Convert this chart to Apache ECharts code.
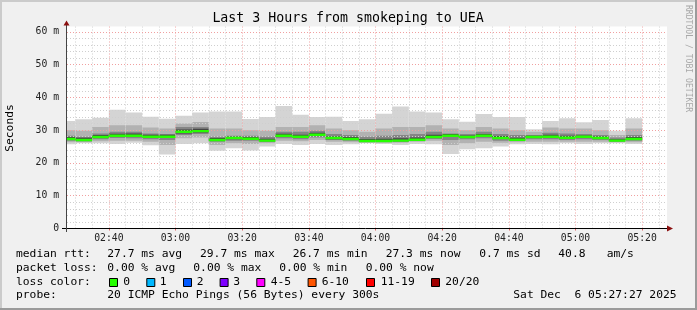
<!DOCTYPE html>
<html><head><meta charset="utf-8">
<script src="https://cdn.jsdelivr.net/npm/echarts@6/dist/echarts.min.js"></script>
<style>html,body{margin:0;padding:0;background:#f0f0f0;}#c{width:697px;height:310px;}</style>
</head><body><div id="c"></div>
<script>
// ---- data (ms) ----
const stepEnds = ["02:30","02:35","02:40","02:45","02:50","02:55","03:00","03:05","03:10","03:15","03:20","03:25","03:30","03:35","03:40","03:45","03:50","03:55","04:00","04:05","04:10","04:15","04:20","04:25","04:30","04:35","04:40","04:45","04:50","04:55","05:00","05:05","05:10","05:15","05:20"];
const medians = [27.3,27.0,27.9,28.3,28.3,28.0,28.0,29.5,29.7,27.0,27.6,27.4,26.8,28.3,28.0,28.6,27.6,27.3,26.7,26.7,26.8,27.1,27.9,28.3,27.9,28.3,27.6,27.1,27.9,28.0,27.7,28.0,27.6,26.8,27.3];
const mins = [25.7,26.0,26.0,25.8,26.2,25.4,22.6,25.8,26.0,23.7,24.5,23.8,25.0,25.8,25.5,25.8,25.5,25.7,26.0,25.8,25.5,25.8,25.7,22.7,24.2,24.5,25.0,25.7,25.8,25.7,26.0,25.8,26.0,26.0,25.8];
const maxs = [32.8,33.3,33.8,36.2,35.4,34.1,33.5,34.4,35.4,35.7,35.7,33.4,34.0,37.4,34.7,34.0,34.1,32.8,33.3,35.0,37.2,35.7,35.4,33.3,32.6,34.9,34.0,34.0,30.3,32.8,33.6,32.4,33.1,29.8,33.6];
const p10 = [26.3,26.3,26.6,26.8,26.8,26.5,25.5,27.5,27.8,25.5,26.0,25.8,26.0,26.8,26.6,27.0,26.5,26.3,26.2,26.2,26.2,26.5,26.8,25.5,26.0,26.5,26.2,26.3,26.5,26.5,26.5,26.5,26.5,26.3,26.3];
const p90 = [30.0,29.8,31.0,31.5,31.5,30.8,30.5,32.0,32.5,30.5,30.5,30.0,29.8,31.0,31.0,31.5,30.5,30.0,29.5,30.5,31.0,31.0,31.5,30.5,30.0,31.0,30.5,30.0,29.5,30.8,30.5,30.5,30.0,28.5,30.5];
const p25 = [26.8,26.6,27.2,27.6,27.5,27.2,27.0,28.5,28.8,26.5,26.8,26.8,26.5,27.5,27.2,27.8,27.0,26.8,26.5,26.5,26.5,26.8,27.3,27.0,27.2,27.5,26.8,26.8,27.2,27.2,27.0,27.2,27.0,26.6,26.8];
const p75 = [28.3,28.0,29.0,29.5,29.5,29.0,28.8,31.0,31.0,28.0,28.3,28.3,28.0,29.5,29.5,29.8,28.8,28.5,28.0,28.3,28.5,28.8,29.5,29.0,28.8,29.5,28.8,28.5,28.5,29.2,29.0,28.8,28.5,27.8,28.5];
const coreLo = [27.0,26.8,27.6,28.0,28.0,27.7,27.6,29.0,29.3,26.8,27.2,27.0,26.6,28.0,27.6,28.2,27.2,27.0,26.5,26.5,26.6,26.9,27.6,27.9,27.6,28.0,27.3,26.9,27.6,27.6,27.4,27.7,27.3,26.6,27.0];
const coreHi = [27.9,27.7,28.5,28.9,29.0,28.6,28.6,30.2,30.4,27.6,28.0,27.9,27.4,28.9,28.6,29.2,28.1,27.9,27.3,27.4,27.5,27.8,28.6,28.8,28.4,28.8,28.2,27.7,28.3,28.6,28.3,28.4,28.1,27.2,27.9];
const stepMinutes = 5;
const xStart = "02:27:27", xEnd = "05:27:27";
const xTickLabels = ["02:40","03:00","03:20","03:40","04:00","04:20","04:40","05:00","05:20"];
const yTickValues = [0,10,20,30,40,50,60];
const yTickLabels = ["0","10 m","20 m","30 m","40 m","50 m","60 m"];
const yMax = 61.6;
const titleText = "Last 3 Hours from smokeping to UEA";
const medianStats = ["27.7 ms avg","29.7 ms max","26.7 ms min","27.3 ms now","0.7 ms sd","40.8","am/s"];
const lossStats = ["0.00 % avg","0.00 % max","0.00 % min","0.00 % now"];
const lossLabels = ["0","1","2","3","4-5","6-10","11-19","20/20"];
const lossColors = ["#26ff00","#00b8ff","#0059ff","#7e00ff","#ff00ff","#ff5500","#ff0000","#a00000"];
const probeText = "20 ICMP Echo Pings (56 Bytes) every 300s";
const dateText = "Sat Dec  6 05:27:27 2025";

// ---- helpers ----
function toMin(s){const p=s.split(':').map(Number);return p[0]*60+p[1]+(p[2]||0)/60;}
function fmt(v){const h=Math.floor(v/60),m=Math.round(v-h*60);return String(h).padStart(2,'0')+':'+String(m).padStart(2,'0');}
const xMin = toMin(xStart), xMax = toMin(xEnd);
const xTickVals = xTickLabels.map(toMin);

const data = stepEnds.map((t,i)=>[toMin(t),mins[i],p10[i],p25[i],coreLo[i],coreHi[i],p75[i],p90[i],maxs[i],medians[i]]);

// grid lines (drawn above smoke like rrdtool)
const MINOR='#cfcfcf', MAJOR='#f0a0a0';
const gl=[];
for(let m=Math.ceil(xMin/5)*5;m<xMax;m+=5){gl.push({xAxis:m,lineStyle:{color:(m%20===0)?MAJOR:MINOR,type:[1,2],width:1}});}
for(let v=2;v<yMax;v+=2){gl.push({yAxis:v,lineStyle:{color:(v%10===0)?MAJOR:MINOR,type:[1,2],width:1}});}

const MONO='"DejaVu Sans Mono", monospace';
const LF='11.3px '+MONO;
const g=[];
function txt(t,x,y,o){g.push(Object.assign({type:'text',silent:true,z:10,style:{text:t,x:x,y:y,font:LF,fill:'#000',align:'left',verticalAlign:'middle'}},o||{}));}
// frame
g.push({type:'rect',silent:true,z:0,shape:{x:0,y:0,width:697,height:2},style:{fill:'#cbcbcb'}});
g.push({type:'rect',silent:true,z:0,shape:{x:0,y:0,width:2,height:310},style:{fill:'#cbcbcb'}});
g.push({type:'rect',silent:true,z:0,shape:{x:0,y:308,width:697,height:2},style:{fill:'#9b9b9b'}});
g.push({type:'rect',silent:true,z:0,shape:{x:695,y:0,width:2,height:310},style:{fill:'#9b9b9b'}});
// title & side texts
g.push({type:'text',silent:true,style:{text:titleText,x:348,y:19,font:'13.25px '+MONO,fill:'#000',align:'center',verticalAlign:'middle'}});
g.push({type:'text',silent:true,x:10.5,y:128,rotation:Math.PI/2,style:{text:'Seconds',x:0,y:0,font:LF,fill:'#000',align:'center',verticalAlign:'middle'}});
g.push({type:'text',silent:true,x:688,y:5,rotation:-Math.PI/2,style:{text:'RRDTOOL / TOBI OETIKER',x:0,y:0,font:'8.1px '+MONO,fill:'#a8a8a8',align:'left',verticalAlign:'middle'}});
// axis lines and arrows
g.push({type:'line',silent:true,z:20,shape:{x1:62,y1:228.5,x2:669,y2:228.5},style:{stroke:'#000',lineWidth:1}});
g.push({type:'polygon',silent:true,z:20,shape:{points:[[667,225.5],[673,228.5],[667,231.5]]},style:{fill:'#8b1010'}});
g.push({type:'line',silent:true,z:20,shape:{x1:66.5,y1:232,x2:66.5,y2:25},style:{stroke:'#444',lineWidth:1}});
g.push({type:'polygon',silent:true,z:20,shape:{points:[[63.5,25.5],[66.5,20.5],[69.5,25.5]]},style:{fill:'#8b1010'}});
// legend rows
const rowY=[254.3,267.8,281.6,295.2];
txt('median rtt:',16,rowY[0]);
const mPos=[107.3,200,292.7,385.7,479.3,558.3,606.7];
medianStats.forEach((s,i)=>txt(s,mPos[i],rowY[0]));
txt('packet loss:',16,rowY[1]);
const lPos=[107.3,193.3,279.3,365.7];
lossStats.forEach((s,i)=>txt(s,lPos[i],rowY[1]));
txt('loss color:',16,rowY[2]);
const bPos=[109,146.3,183,219.6,256.3,307.6,366,431];
const lbPos=[123.3,159.7,196.7,233.3,270.7,321.7,380.7,445.3];
lossLabels.forEach((s,i)=>{
  g.push({type:'rect',silent:true,z:10,shape:{x:bPos[i]+0.5,y:278.5,width:8,height:8},style:{fill:lossColors[i],stroke:'#000',lineWidth:1}});
  txt(s,lbPos[i],rowY[2]);
});
txt('probe:',16,rowY[3]);
txt(probeText,107.3,rowY[3]);
txt(dateText,513.3,rowY[3]);

const SMOKE=['#d4d4d4','#b2b2b2','#858585','#454545'];
const chart=echarts.init(document.getElementById('c'),null,{renderer:'canvas'});
chart.setOption({
  animation:false,
  backgroundColor:'#f0f0f0',
  grid:{left:67,right:30,top:26.6,bottom:81.5,show:true,backgroundColor:'#ffffff',borderWidth:0,containLabel:false},
  xAxis:{type:'value',min:xMin,max:xMax,
    axisLine:{show:false},
    axisTick:{show:true,customValues:xTickVals,length:2,lineStyle:{color:'#e06060'}},
    axisLabel:{customValues:xTickVals,formatter:v=>fmt(v),fontFamily:MONO,fontSize:9.75,color:'#222',margin:5},
    splitLine:{show:false}},
  yAxis:{type:'value',min:0,max:yMax,
    axisLine:{show:false},axisTick:{show:false},
    axisLabel:{customValues:yTickValues,formatter:v=>{const i=yTickValues.indexOf(v);return i<0?'':yTickLabels[i];},fontFamily:MONO,fontSize:9.75,color:'#222',margin:8},
    splitLine:{show:false}},
  graphic:g,
  series:[
    {type:'custom',z:2,clip:true,data:data,encode:{x:0,y:[1,8]},
     renderItem:function(params,api){
       const t1=api.value(0),t0=t1-stepMinutes;
       const bands=[[1,8],[2,7],[3,6],[4,5]];
       const ch=bands.map((b,k)=>{
         const a=api.coord([t0,api.value(b[1])]),c=api.coord([t1,api.value(b[0])]);
         return {type:'rect',shape:{x:a[0],y:a[1],width:c[0]-a[0],height:c[1]-a[1]},style:{fill:SMOKE[k]}};
       });
       return {type:'group',children:ch};
     }},
    {type:'line',z:5,data:[],silent:true,
     markLine:{silent:true,symbol:['none','none'],label:{show:false},animation:false,data:gl}},
    {type:'custom',z:8,clip:true,data:data,encode:{x:0,y:9},
     renderItem:function(params,api){
       const t1=api.value(0),t0=t1-stepMinutes;
       const m0=api.coord([t0,api.value(9)]),m1=api.coord([t1,api.value(9)]);
       return {type:'rect',shape:{x:m0[0],y:m0[1]-1.2,width:m1[0]-m0[0],height:2.4},style:{fill:lossColors[0]}};
     }}
  ]
});
</script></body></html>
